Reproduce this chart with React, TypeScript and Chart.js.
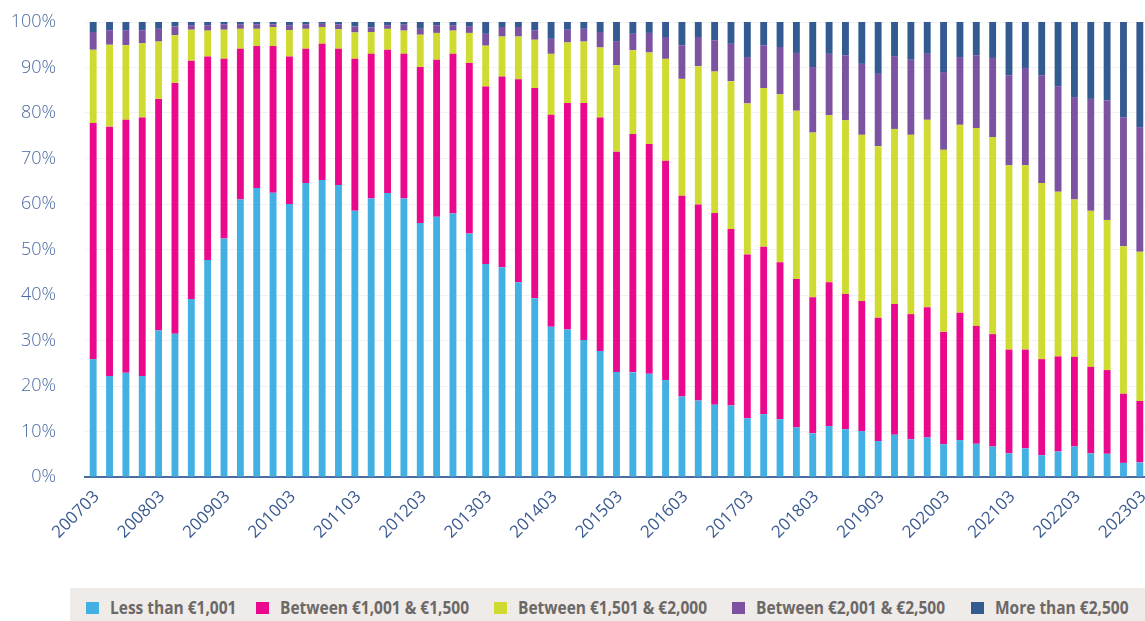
import React, { useEffect, useRef } from "react";
import { Chart, registerables } from "chart.js";

Chart.register(...registerables);

// Quarter-end periods (YYYYMM)
const periods = [
  "200703", "200706", "200709", "200712",
  "200803", "200806", "200809", "200812",
  "200903", "200906", "200909", "200912",
  "201003", "201006", "201009", "201012",
  "201103", "201106", "201109", "201112",
  "201203", "201206", "201209", "201212",
  "201303", "201306", "201309", "201312",
  "201403", "201406", "201409", "201412",
  "201503", "201506", "201509", "201512",
  "201603", "201606", "201609", "201612",
  "201703", "201706", "201709", "201712",
  "201803", "201806", "201809", "201812",
  "201903", "201906", "201909", "201912",
  "202003", "202006", "202009", "202012",
  "202103", "202106", "202109", "202112",
  "202203", "202206", "202209", "202212",
  "202303",
];

// Share of each band per quarter, in percent
const lessThan1001 = [
  25.9, 22.2, 22.9, 22.2, 32.2, 31.5, 39.1, 47.7, 52.4, 61.0, 63.5, 62.5, 60.0,
  64.6, 65.3, 64.2, 58.5, 61.2, 62.4, 61.2, 55.8, 57.2, 57.9, 53.5, 46.8, 46.1,
  42.8, 39.3, 33.0, 32.4, 30.1, 27.7, 23.1, 23.0, 22.7, 21.3, 17.7, 16.8, 15.9,
  15.7, 12.9, 13.8, 12.7, 10.9, 9.6, 11.2, 10.5, 10.1, 7.9, 9.3, 8.3, 8.7, 7.2,
  8.1, 7.3, 6.7, 5.2, 6.3, 4.8, 5.6, 6.7, 5.2, 5.1, 3.1, 3.2,
];

const between1001And1500 = [
  51.9, 54.8, 55.6, 56.8, 50.9, 55.1, 52.4, 44.7, 39.5, 33.1, 31.2, 32.2, 32.4,
  29.5, 29.9, 29.9, 33.4, 31.8, 31.5, 31.8, 34.3, 34.5, 35.1, 37.5, 39.0, 41.9,
  44.6, 46.2, 46.6, 49.8, 52.1, 51.3, 48.4, 52.4, 50.5, 48.2, 44.1, 43.1, 42.1,
  38.8, 36.0, 36.8, 34.5, 32.6, 29.9, 31.6, 29.7, 28.6, 27.1, 28.7, 27.5, 28.6,
  24.7, 28.0, 25.9, 24.7, 22.8, 21.7, 21.1, 20.9, 19.7, 19.0, 18.4, 15.2, 13.5,
];

const between1501And2000 = [
  16.1, 18.0, 16.4, 16.3, 12.6, 10.5, 6.8, 5.7, 6.4, 4.4, 3.8, 4.2, 5.8,
  4.4, 3.7, 4.3, 5.8, 4.8, 4.6, 5.1, 7.1, 5.9, 5.1, 6.6, 9.0, 8.8,
  9.4, 10.6, 13.4, 13.3, 13.5, 15.4, 19.0, 18.4, 20.1, 22.4, 25.7, 30.4, 31.1,
  32.5, 33.2, 34.9, 36.9, 37.0, 36.2, 36.7, 38.2, 36.5, 37.7, 38.5, 39.4, 41.2,
  40.0, 41.3, 43.5, 43.3, 40.5, 40.5, 38.7, 36.2, 34.6, 34.3, 33.0, 32.4, 32.8,
];

const between2001And2500 = [
  3.9, 3.2, 3.3, 2.9, 2.8, 1.9, 1.0, 1.2, 1.2, 0.9, 1.0, 0.6, 1.1,
  1.0, 0.7, 1.1, 1.3, 1.0, 0.8, 1.3, 1.3, 1.7, 1.2, 1.5, 2.6, 2.1,
  2.1, 2.1, 3.3, 2.8, 2.8, 3.4, 5.3, 3.6, 4.3, 4.8, 7.4, 6.4, 6.9,
  8.2, 10.2, 9.4, 10.4, 12.7, 14.4, 13.5, 14.3, 15.6, 15.9, 16.0, 16.5, 14.5,
  17.1, 14.9, 16.0, 17.4, 19.8, 21.4, 23.7, 23.2, 22.5, 24.6, 26.3, 28.3, 27.4,
];

const moreThan2500 = [
  2.2, 1.8, 1.8, 1.8, 1.5, 1.0, 0.7, 0.7, 0.5, 0.6, 0.5, 0.5, 0.7,
  0.5, 0.4, 0.5, 1.0, 1.2, 0.7, 0.6, 1.5, 0.7, 0.7, 0.9, 2.6, 1.1,
  1.1, 1.8, 3.7, 1.7, 1.5, 2.2, 4.2, 2.6, 2.4, 3.3, 5.1, 3.3, 4.0,
  4.8, 7.7, 5.1, 5.5, 6.8, 9.9, 7.0, 7.3, 9.2, 11.4, 7.5, 8.3, 7.0,
  11.0, 7.7, 7.3, 7.9, 11.7, 10.1, 11.7, 14.1, 16.5, 16.9, 17.2, 21.0, 23.1,
];

const seriesNames = [
  "Less than €1,001",
  "Between €1,001 & €1,500",
  "Between €1,501 & €2,000",
  "Between €2,001 & €2,500",
  "More than €2,500",
];

const seriesColors = ["#43b0e3", "#ea098c", "#cfdb31", "#7b53a1", "#335a91"];

const seriesValues = [
  lessThan1001,
  between1001And1500,
  between1501And2000,
  between2001And2500,
  moreThan2500,
];

// Left edge of each legend entry (px)
const legendItemX = [16, 186, 424, 662, 901];

// Draws every fourth period label under the x axis, slanted at 45°
const periodLabelPlugin = {
  id: "periodLabels",
  afterDraw(chart: any) {
    const scale = chart.scales.x;
    const ctx = chart.ctx as CanvasRenderingContext2D;
    ctx.save();
    ctx.font = "17px 'Open Sans', sans-serif";
    ctx.fillStyle = "#3a5a91";
    ctx.textAlign = "right";
    ctx.textBaseline = "middle";
    periods.forEach((p, i) => {
      if (i % 4 !== 0) return;
      const x = scale.getPixelForTick(i) + 3.5;
      const y = scale.top + 17;
      ctx.save();
      ctx.translate(x, y);
      ctx.rotate(-Math.PI / 4);
      ctx.fillText(p, 0, 0);
      ctx.restore();
    });
    ctx.restore();
  },
};

export default function App() {
  const canvasRef = useRef<HTMLCanvasElement | null>(null);

  useEffect(() => {
    const canvas = canvasRef.current;
    if (!canvas) return;
    const chart = new Chart(canvas, {
      type: "bar",
      data: {
        labels: periods,
        datasets: seriesNames.map((name, i) => ({
          label: name,
          data: seriesValues[i],
          backgroundColor: seriesColors[i],
          borderWidth: 0,
          barPercentage: 0.42,
          categoryPercentage: 1,
        })),
      },
      options: {
        responsive: false,
        animation: false,
        devicePixelRatio: 1,
        layout: { padding: { top: 22, right: 0, left: 0, bottom: 0 } },
        plugins: {
          legend: { display: false },
          tooltip: { enabled: false },
        },
        scales: {
          x: {
            stacked: true,
            grid: { display: false, drawTicks: false },
            border: { display: true, color: "#4b6c9f", width: 2 },
            ticks: { display: false },
            afterFit: (s: any) => {
              s.height = 103;
            },
          },
          y: {
            stacked: true,
            min: 0,
            max: 100,
            grid: {
              color: "#f1f1f1",
              drawTicks: true,
              tickLength: 27,
              tickColor: "rgba(0,0,0,0)",
            },
            border: { display: false },
            ticks: {
              stepSize: 10,
              padding: 2,
              color: "#4a6ba1",
              font: { family: "'Open Sans', sans-serif", size: 18, weight: 300 as any },
              callback: (v: any) => v + "%",
            },
            afterFit: (s: any) => {
              s.width = 85;
            },
          },
        },
      },
      plugins: [periodLabelPlugin],
    });
    return () => chart.destroy();
  }, []);

  return (
    <div
      style={{
        position: "fixed",
        left: 0,
        top: 0,
        width: 1145,
        height: 621,
        overflow: "hidden",
        background: "#ffffff",
      }}
    >
      <canvas
        ref={canvasRef}
        width={1148}
        height={580}
        style={{ position: "absolute", left: 0, top: 0, width: 1148, height: 580 }}
      />
      <div
        style={{
          position: "absolute",
          left: 70,
          top: 588,
          width: 1100,
          height: 40,
          background: "#efebe8",
        }}
      >
        {seriesNames.map((name, i) => (
          <div
            key={name}
            style={{
              position: "absolute",
              left: legendItemX[i],
              top: 0,
              height: 40,
              whiteSpace: "nowrap",
            }}
          >
            <span
              style={{
                position: "absolute",
                left: 0,
                top: 14,
                width: 13,
                height: 12,
                background: seriesColors[i],
              }}
            />
            <span
              style={{
                position: "absolute",
                left: 24,
                top: 8,
                display: "inline-block",
                transform: "scaleX(0.86)",
                transformOrigin: "0 50%",
                fontFamily: "'Open Sans', sans-serif",
                fontWeight: 700,
                fontSize: 18,
                lineHeight: "22px",
                color: "#6b6867",
              }}
            >
              {name}
            </span>
          </div>
        ))}
      </div>
    </div>
  );
}
